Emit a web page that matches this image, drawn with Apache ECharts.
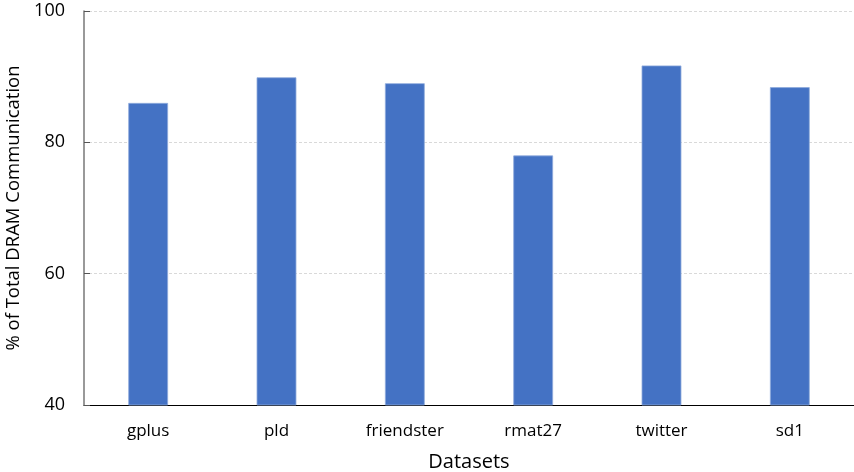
<!DOCTYPE html>
<html>
<head>
<meta charset="utf-8">
<script src="https://cdn.jsdelivr.net/npm/echarts@6/dist/echarts.min.js"></script>
<style>html,body{margin:0;padding:0;background:#fff}#c{width:854px;height:472px}</style>
</head>
<body>
<div id="c"></div>
<script>
const categories = ["gplus", "pld", "friendster", "rmat27", "twitter", "sd1"];
const values = [86.0, 89.9, 89.0, 78.0, 91.7, 88.4];
const yTicks = [40, 60, 80, 100];

const chart = echarts.init(document.getElementById('c'), null, {renderer: 'canvas'});
const font = '"Open Sans", "Noto Sans", sans-serif';
chart.setOption({
  animation: false,
  grid: {left: 84, right: 0, top: 11, bottom: 67, containLabel: false, outerBoundsMode: 'none'},
  xAxis: {
    type: 'category',
    data: categories,
    name: 'Datasets',
    nameLocation: 'middle',
    nameGap: 47,
    nameTextStyle: {fontFamily: font, fontSize: 20, color: '#000'},
    axisLine: {lineStyle: {color: '#000', width: 1}},
    axisTick: {show: false},
    axisLabel: {fontFamily: font, fontSize: 17, color: '#000', margin: 18}
  },
  yAxis: {
    type: 'value',
    min: yTicks[0],
    max: yTicks[yTicks.length - 1],
    interval: 20,
    name: '% of Total DRAM Communication',
    nameLocation: 'middle',
    nameGap: 57,
    nameTextStyle: {fontFamily: font, fontSize: 18.5, color: '#000'},
    axisLine: {show: true, lineStyle: {color: '#777', width: 1.5}},
    axisTick: {show: true, inside: true, length: 6, lineStyle: {color: '#555'}},
    axisLabel: {fontFamily: font, fontSize: 18, color: '#000', margin: 19},
    splitLine: {show: true, lineStyle: {color: '#d9d9d9', type: [3, 2], width: 1}}
  },
  series: [{
    type: 'bar',
    data: values,
    barWidth: '31%',
    itemStyle: {color: '#4472C4', borderColor: '#8fabdc', borderWidth: 0.8}
  }]
});
</script>
</body>
</html>
